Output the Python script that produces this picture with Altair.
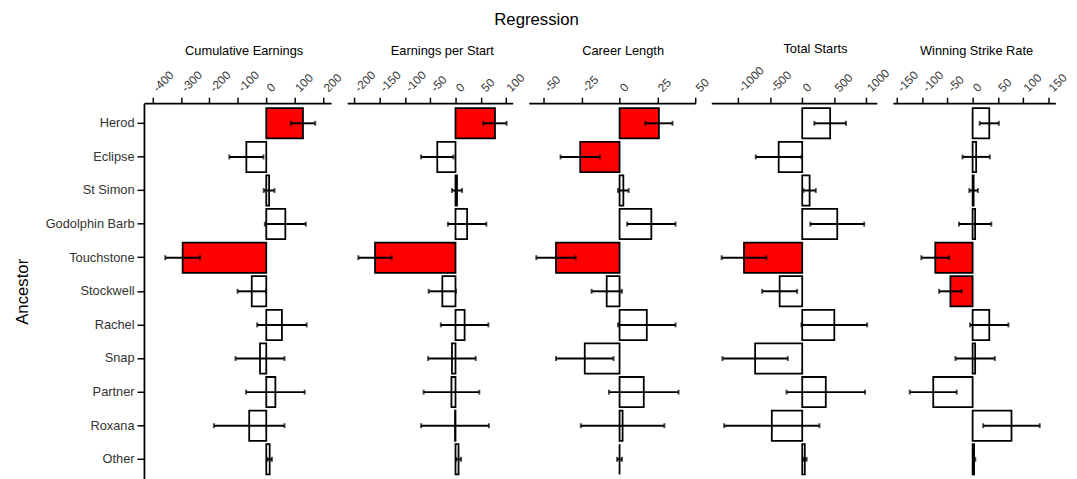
import altair as alt
import pandas as pd

ancestors = ["Herod", "Eclipse", "St Simon", "Godolphin Barb", "Touchstone",
             "Stockwell", "Rachel", "Snap", "Partner", "Roxana", "Other"]

# Cumulative Earnings
ce_est = [129, -70, 10, 67, -294, -51, 55, -22, 32, -60, 12]
ce_err = [43, 60, 19, 72, 61, 50, 87, 86, 103, 124, 8]
ce_sig = [1, 0, 0, 0, 1, 0, 0, 0, 0, 0, 0]
ce_ticks = [-400, -300, -200, -100, 0, 100, 200]

# Earnings per Start
eps_est = [78, -36, 3, 23, -159, -26, 18, -7, -8, -1, 6]
eps_err = [23, 32, 10, 38, 33, 27, 47, 47, 55, 67, 5]
eps_sig = [1, 0, 0, 0, 1, 0, 0, 0, 0, 0, 0]
eps_ticks = [-200, -150, -100, -50, 0, 50, 100]

# Career Length
cl_est = [26, -26, 2.5, 21, -42, -8.5, 18, -23, 16, 2, 0]
cl_err = [9, 13, 3.5, 16, 13, 10, 19, 19, 23, 27.6, 1.6]
cl_sig = [1, 1, 0, 0, 1, 0, 0, 0, 0, 0, 0]
cl_ticks = [-50, -25, 0, 25, 50]

# Total Starts
ts_est = [435, -367, 115, 546, -907, -352, 500, -734, 367, -474, 40]
ts_err = [247, 357, 97, 420, 349, 273, 512, 509, 612, 742, 28]
ts_sig = [0, 0, 0, 0, 1, 0, 0, 0, 0, 0, 0]
ts_ticks = [-1000, -500, 0, 500, 1000]

# Winning Strike Rate
wsr_est = [33, 7, 2, 5, -74, -44, 33, 5, -78, 77, 3]
wsr_err = [19, 27, 8.5, 32, 27.6, 22.4, 38, 39, 46.5, 56, 2.3]
wsr_sig = [0, 0, 0, 0, 1, 1, 0, 0, 0, 0, 0]
wsr_ticks = [-150, -100, -50, 0, 50, 100, 150]

FONT = "Liberation Sans"
H = 382


def panel(title, est, err, sig, domain, ticks, width, dx, first):
    df = pd.DataFrame({
        "Ancestor": ancestors,
        "est": est,
        "lo": [e - s for e, s in zip(est, err)],
        "hi": [e + s for e, s in zip(est, err)],
        "zero": [0] * len(est),
        "sig": ["yes" if s else "no" for s in sig],
    })
    if first:
        yaxis = alt.Axis(title="Ancestor", labelFontSize=13, labelColor="#333333",
                         titleFontSize=17, titleFontWeight="normal", titleColor="black",
                         titlePadding=14, tickSize=7, tickColor="black", tickWidth=1.5,
                         domainColor="black", domainWidth=1.8, labelPadding=3,
                         labelAngle=0)
    else:
        yaxis = None
    y = alt.Y("Ancestor:N", sort=ancestors,
              scale=alt.Scale(paddingInner=0.1, paddingOuter=0.15), axis=yaxis)
    xscale = alt.Scale(domain=domain, nice=False, zero=False)
    xaxis = alt.Axis(orient="top", values=ticks, title=None, labelAngle=315,
                     labelAlign="left", labelBaseline="middle", labelFontSize=12,
                     labelColor="#333333", labelPadding=8, labelOffset=2,
                     labelFlush=False, labelOverlap=False, tickSize=6,
                     tickColor="black", tickWidth=1.5, domainColor="black",
                     domainWidth=1.8, grid=False, minExtent=38, maxExtent=38,
                     labelExpr="'' + datum.value")
    base = alt.Chart(df)
    bars = base.mark_bar(stroke="black", strokeWidth=1.8).encode(
        x=alt.X("est:Q", scale=xscale, axis=xaxis),
        x2="zero:Q",
        y=y,
        fill=alt.Fill("sig:N", scale=alt.Scale(domain=["no", "yes"],
                                               range=["white", "#FF0000"]),
                      legend=None),
    )
    rules = base.mark_rule(color="black", strokeWidth=2).encode(
        x=alt.X("lo:Q", scale=xscale, axis=xaxis), x2="hi:Q", y=y)
    cap_lo = base.mark_tick(color="black", thickness=2, size=5).encode(
        x=alt.X("lo:Q", scale=xscale, axis=xaxis), y=y)
    cap_hi = base.mark_tick(color="black", thickness=2, size=5).encode(
        x=alt.X("hi:Q", scale=xscale, axis=xaxis), y=y)
    return alt.layer(bars, rules, cap_lo, cap_hi).properties(
        width=width, height=H,
        title=alt.TitleParams(title, dx=dx, anchor="middle", frame="group",
                              fontSize=13, fontWeight="normal", color="black",
                              offset=8),
    )


panels = [
    panel("Cumulative Earnings", ce_est, ce_err, ce_sig, [-430, 228], ce_ticks, 190, 6.7, True),
    panel("Earnings per Start", eps_est, eps_err, eps_sig, [-214, 113], eps_ticks, 168, 12.6, False),
    panel("Career Length", cl_est, cl_err, cl_sig, [-60, 50], cl_ticks, 169, 11.3, False),
    panel("Total Starts", ts_est, ts_err, ts_sig, [-1417, 1162], ts_ticks, 168, 21.7, False),
    panel("Winning Strike Rate", wsr_est, wsr_err, wsr_sig, [-158, 164], wsr_ticks, 165, 2.5, False),
]

chart = alt.hconcat(*panels, spacing=16.3, bounds="flush").properties(
    title=alt.TitleParams("Regression", anchor="middle", fontSize=17,
                          fontWeight="normal", color="black", offset=14, dx=-4.5),
    padding={"left": 5, "top": 0, "right": 0, "bottom": 0},
).configure(font=FONT).configure_view(stroke=None)

chart.save("out.html", embed_options={"renderer": "svg", "actions": False})
